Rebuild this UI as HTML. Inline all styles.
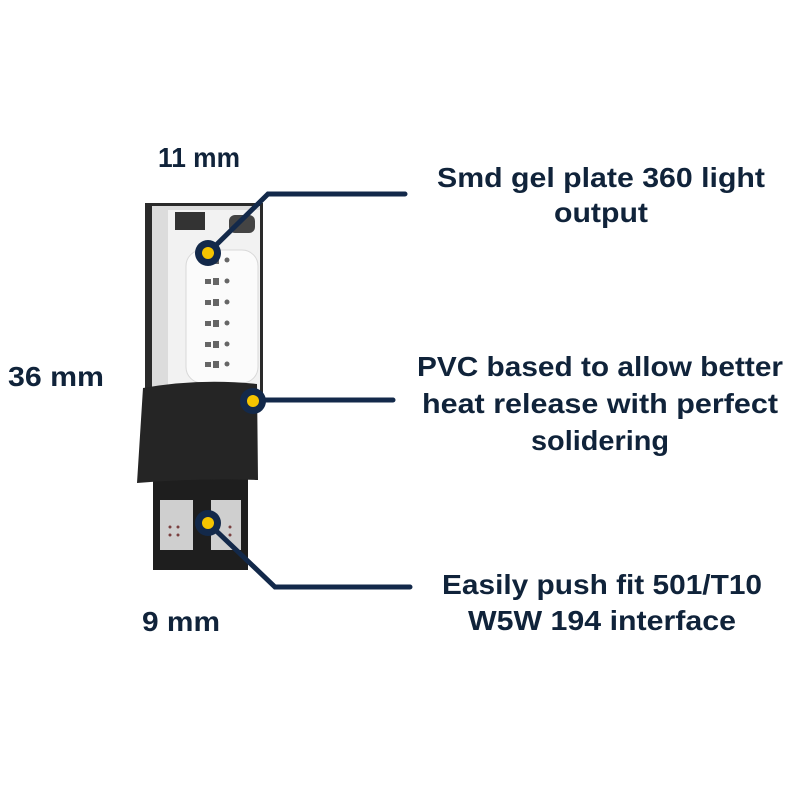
<!DOCTYPE html>
<html><head><style>body{margin:0;background:#fff}svg{display:block}</style></head>
<body>
<svg width="800" height="800" viewBox="0 0 800 800" xmlns="http://www.w3.org/2000/svg">
<rect width="800" height="800" fill="#fff"/>
<rect x="145" y="203" width="118" height="190" fill="#2a2a2a"/>
<rect x="152" y="206" width="108" height="186" fill="#dcdcdc"/>
<rect x="168" y="210" width="92" height="180" fill="#f2f2f2"/>
<rect x="175" y="212" width="30" height="18" fill="#333"/>
<rect x="229" y="215" width="26" height="18" rx="6" fill="#444"/>
<rect x="186" y="250" width="72" height="133" rx="16" fill="#fbfbfb" stroke="#d8d8d8"/>
<g fill="#666">
<rect x="205" y="258" width="6" height="5"/><rect x="213" y="257" width="6" height="7"/><circle cx="227" cy="260" r="2.5"/>
<rect x="205" y="279" width="6" height="5"/><rect x="213" y="278" width="6" height="7"/><circle cx="227" cy="281" r="2.5"/>
<rect x="205" y="300" width="6" height="5"/><rect x="213" y="299" width="6" height="7"/><circle cx="227" cy="302" r="2.5"/>
<rect x="205" y="321" width="6" height="5"/><rect x="213" y="320" width="6" height="7"/><circle cx="227" cy="323" r="2.5"/>
<rect x="205" y="342" width="6" height="5"/><rect x="213" y="341" width="6" height="7"/><circle cx="227" cy="344" r="2.5"/>
<rect x="205" y="362" width="6" height="5"/><rect x="213" y="361" width="6" height="7"/><circle cx="227" cy="364" r="2.5"/>
</g>
<rect x="153" y="470" width="95" height="100" fill="#1e1e1e"/>
<rect x="160" y="500" width="33" height="50" fill="#cfcfcf"/>
<rect x="211" y="500" width="30" height="50" fill="#cfcfcf"/>
<g fill="#7a4040"><circle cx="170" cy="527" r="1.5"/><circle cx="178" cy="527" r="1.5"/><circle cx="170" cy="535" r="1.5"/><circle cx="178" cy="535" r="1.5"/><circle cx="230" cy="527" r="1.5"/><circle cx="230" cy="535" r="1.5"/></g>
<path d="M143 388 Q200 378 257 384 L258 480 Q200 478 137 483 Z" fill="#252525"/>
<g stroke="#13294a" stroke-width="5" fill="none" stroke-linecap="round">
<polyline points="208,253 268,194 405,194"/>
<line x1="253" y1="400" x2="393" y2="400"/>
<polyline points="208,523 275,587 410,587"/>
</g>
<g fill="#13294a"><circle cx="208" cy="253" r="13"/><circle cx="253" cy="401" r="13"/><circle cx="208" cy="523" r="13"/></g>
<g fill="#f5c400"><circle cx="208" cy="253" r="6"/><circle cx="253" cy="401" r="6"/><circle cx="208" cy="523" r="6"/></g>
<g font-family="Liberation Sans, sans-serif" font-weight="bold" fill="#10233a" font-size="28" text-anchor="middle" lengthAdjust="spacingAndGlyphs">
<text x="601" y="187" textLength="328" lengthAdjust="spacingAndGlyphs">Smd gel plate 360 light</text>
<text x="601" y="222" textLength="94" lengthAdjust="spacingAndGlyphs">output</text>
<text x="600" y="376" textLength="366" lengthAdjust="spacingAndGlyphs">PVC based to allow better</text>
<text x="600" y="413" textLength="356" lengthAdjust="spacingAndGlyphs">heat release  with perfect</text>
<text x="600" y="450" textLength="138" lengthAdjust="spacingAndGlyphs">solidering</text>
<text x="602" y="594" textLength="320" lengthAdjust="spacingAndGlyphs">Easily  push fit 501/T10</text>
<text x="602" y="630" textLength="268" lengthAdjust="spacingAndGlyphs">W5W 194 interface</text>
<text x="199" y="167" textLength="82" lengthAdjust="spacingAndGlyphs">11 mm</text>
<text x="56" y="386" textLength="96" lengthAdjust="spacingAndGlyphs">36 mm</text>
<text x="181" y="631" textLength="78" lengthAdjust="spacingAndGlyphs">9 mm</text>
</g>
</svg>
</body></html>
